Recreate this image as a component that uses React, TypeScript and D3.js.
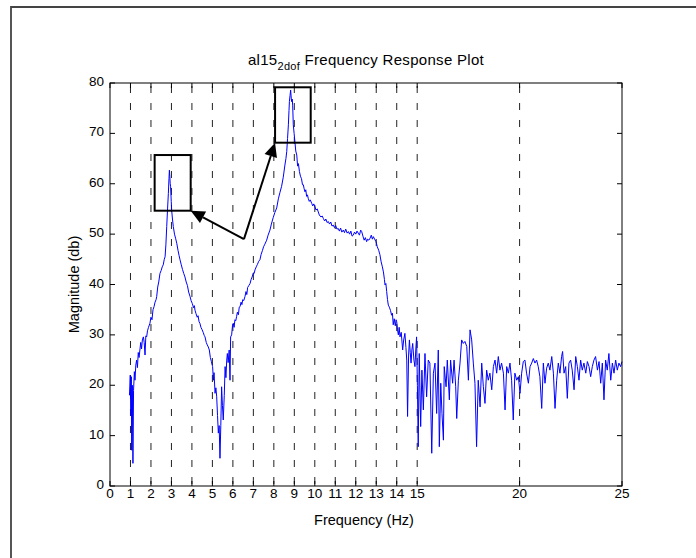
import React from 'react';
import * as d3 from 'd3';

const xTicks = [0, 1, 2, 3, 4, 5, 6, 7, 8, 9, 10, 11, 12, 13, 14, 15, 20, 25];
const yTicks = [0, 10, 20, 30, 40, 50, 60, 70, 80];
const gridFreqs = [1, 2, 3, 4, 5, 6, 7, 8, 9, 10, 11, 12, 13, 14, 15, 20];

const firstMode: [number, number][] = [
  [0.95, 18], [0.99, 22], [1.02, 14], [1.04, 21.7], [1.06, 7.1], [1.09, 20], [1.12, 4.5], [1.15, 19],
  [1.19, 22.7], [1.22, 21], [1.26, 24], [1.3, 25], [1.34, 23.5], [1.38, 26.5], [1.42, 25.5], [1.46, 27],
  [1.5, 28.5], [1.54, 27.2], [1.58, 29], [1.63, 29.6], [1.67, 28.5], [1.71, 26], [1.75, 29.8], [1.79, 29.6],
  [1.83, 30.8], [1.88, 31.5], [1.95, 32.3], [2.0, 33.5], [2.05, 33], [2.1, 35], [2.15, 35.6], [2.2, 36.5],
  [2.25, 37], [2.28, 37.6], [2.33, 39.5], [2.38, 40.5], [2.44, 42.2], [2.5, 42.8], [2.55, 43.5], [2.6, 43.9],
  [2.65, 45], [2.69, 45.5], [2.73, 48], [2.77, 51.5], [2.81, 55], [2.85, 58.1], [2.88, 61], [2.9, 62.7],
  [2.92, 61.5], [2.94, 60], [2.96, 59.4], [2.99, 56.5], [3.01, 54.8], [3.05, 53], [3.09, 51.5], [3.15, 50],
  [3.2, 49.2], [3.26, 48.2], [3.32, 46.8], [3.37, 45.8], [3.42, 44.9], [3.48, 43.9], [3.54, 43], [3.6, 42.2],
  [3.66, 41.5], [3.72, 40.5], [3.78, 39.8], [3.84, 38.5], [3.91, 37.6], [3.96, 36.8], [4.02, 36.2], [4.08, 35.4],
  [4.12, 35.8], [4.15, 34.9], [4.2, 34.2], [4.26, 33.5], [4.3, 33.8], [4.35, 32.6], [4.39, 32.3], [4.44, 31.5],
  [4.5, 31], [4.55, 30.5], [4.6, 29.9], [4.64, 29.6], [4.7, 28.5], [4.75, 28], [4.8, 27.6], [4.85, 27],
  [4.9, 25.5], [4.95, 24.7], [5.01, 23.7], [5.05, 21], [5.08, 22.5], [5.13, 18.4], [5.17, 19.5], [5.21, 17.7],
  [5.25, 14], [5.29, 10.5], [5.33, 12], [5.37, 5.5], [5.41, 12], [5.45, 19.7], [5.49, 16], [5.53, 13.1],
  [5.58, 18], [5.62, 23.7], [5.66, 21.5], [5.7, 25], [5.73, 26.3], [5.77, 24.5], [5.82, 27], [5.86, 21],
];

const secondMode: [number, number][] = [
  [5.89, 29.6], [5.94, 30], [5.98, 31.8], [6.02, 32.3], [6.06, 31.5], [6.1, 33], [6.14, 32.8], [6.18, 33.6],
  [6.22, 34.5], [6.27, 34], [6.31, 35.5], [6.35, 35.6], [6.4, 36.5], [6.44, 36], [6.48, 37], [6.53, 36.8],
  [6.59, 37.6], [6.64, 38.6], [6.68, 38], [6.72, 39.4], [6.78, 39.8], [6.84, 40.2], [6.89, 41], [6.94, 41.5],
  [7.0, 42.3], [7.04, 42.2], [7.08, 42.9], [7.14, 43.5], [7.2, 44], [7.26, 44.6], [7.32, 44.9], [7.38, 46],
  [7.44, 46.7], [7.5, 47.5], [7.56, 48], [7.65, 48.8], [7.72, 49.8], [7.81, 50.8], [7.88, 52], [7.97, 53.3],
  [8.05, 54.3], [8.14, 55.2], [8.22, 57], [8.3, 58.3], [8.38, 59.5], [8.46, 61.3], [8.54, 63.7], [8.59, 65],
  [8.63, 66.4], [8.67, 69], [8.71, 71.7], [8.74, 74.5], [8.76, 76.3], [8.79, 77.5], [8.82, 78.6], [8.85, 77],
  [8.87, 76.3], [8.9, 76.8], [8.92, 75.6], [8.95, 71.7], [8.99, 70], [9.03, 68.3], [9.07, 66.5], [9.12, 65.7],
  [9.16, 63.5], [9.2, 64], [9.25, 62.4], [9.3, 61.5], [9.35, 61], [9.4, 59.8], [9.44, 59.8], [9.48, 59],
  [9.52, 58.4], [9.56, 58.8], [9.6, 57.5], [9.64, 57.8], [9.68, 57.1], [9.73, 56.5], [9.78, 56.8], [9.85, 56.1],
  [9.9, 55.6], [9.95, 56], [10.01, 55.4], [10.06, 54.8], [10.12, 55], [10.17, 54.4], [10.22, 53.8], [10.3, 53.4],
  [10.36, 53.6], [10.42, 53.1], [10.48, 52.6], [10.54, 53], [10.6, 52.3], [10.66, 52.5], [10.72, 52], [10.78, 52.4],
  [10.84, 51.6], [10.9, 51.8], [10.96, 51.3], [11.02, 51.7], [11.08, 51], [11.15, 51.1], [11.2, 50.6], [11.26, 51.2],
  [11.32, 50.4], [11.39, 50.8], [11.45, 50.3], [11.51, 51], [11.58, 50.2], [11.64, 50.5], [11.7, 50], [11.76, 50.6],
  [11.82, 49.6], [11.88, 49.8], [11.94, 50.4], [12.0, 50], [12.06, 50.6], [12.12, 50.2], [12.18, 49.8], [12.24, 50.8],
  [12.29, 50.5], [12.35, 49.6], [12.41, 48.8], [12.47, 49.3], [12.53, 48.5], [12.58, 49], [12.64, 48.8], [12.7, 49.2],
  [12.76, 49.8], [12.81, 49], [12.86, 49.5], [12.92, 49], [12.99, 48.5], [13.05, 47.5], [13.12, 46.8], [13.18, 45.9],
  [13.24, 44.5], [13.3, 43.5], [13.35, 42.5], [13.4, 41], [13.43, 39.9], [13.47, 40.2], [13.51, 38.6], [13.55, 37],
  [13.59, 35.9], [13.64, 35.5], [13.7, 34.8], [13.75, 33.9], [13.79, 34.3], [13.83, 32], [13.88, 33.2], [13.93, 31.8],
  [13.97, 33], [14.0, 32.6], [14.04, 31], [14.08, 30], [14.12, 31.5], [14.16, 29.6],
];

const noiseFloor: [number, number][] = [
  [14.22, 30.5], [14.29, 27], [14.34, 29], [14.4, 30.3], [14.45, 27.5], [14.49, 25], [14.53, 13.8], [14.58, 26],
  [14.62, 29], [14.66, 26.5], [14.7, 24.4], [14.74, 27], [14.78, 28.3], [14.84, 25], [14.89, 23.7], [14.93, 27],
  [14.97, 29.6], [15.01, 20], [15.05, 7.8], [15.1, 26.3], [15.17, 11.8], [15.23, 23], [15.3, 15.1], [15.38, 26.3],
  [15.46, 17.7], [15.54, 25], [15.62, 24.4], [15.71, 6.5], [15.79, 22.4], [15.87, 24.4], [15.95, 14.4], [16.03, 27],
  [16.08, 7.8], [16.15, 20.4], [16.21, 14.4], [16.28, 9.1], [16.32, 23.7], [16.41, 19.7], [16.47, 25], [16.57, 17.1],
  [16.63, 25], [16.73, 20.4], [16.8, 25], [16.88, 19.7], [16.93, 13.4], [17.01, 21], [17.09, 24.4], [17.17, 29],
  [17.25, 28.3], [17.33, 28.7], [17.42, 27.7], [17.5, 21], [17.58, 31], [17.66, 29], [17.74, 24.4], [17.82, 20.4],
  [17.9, 7.8], [17.98, 21], [18.07, 15.7], [18.15, 24.4], [18.23, 19.7], [18.31, 16.4], [18.39, 23], [18.47, 21],
  [18.55, 22.4], [18.64, 19.1], [18.72, 23.7], [18.8, 25], [18.88, 22.4], [18.96, 25.7], [19.04, 23], [19.12, 24.4],
  [19.21, 22.4], [19.29, 15.1], [19.37, 23.7], [19.45, 22.4], [19.53, 24.4], [19.61, 21], [19.69, 13.1], [19.77, 22.4],
  [19.86, 21], [19.94, 21.7], [20.02, 18.4], [20.1, 22.4], [20.18, 24.7], [20.26, 25], [20.34, 22.4], [20.43, 20.4],
  [20.51, 23.7], [20.59, 24.4], [20.67, 25.3], [20.75, 24.4], [20.83, 25], [20.91, 23.7], [20.99, 21.7], [21.08, 15.4],
  [21.16, 24.4], [21.24, 20.4], [21.32, 23.4], [21.4, 24.4], [21.48, 23], [21.57, 25.7], [21.65, 22.4], [21.73, 15.4],
  [21.81, 21], [21.89, 24.4], [21.97, 22.4], [22.05, 25.7], [22.1, 26.7], [22.17, 22.4], [22.25, 23.7], [22.33, 17.4],
  [22.41, 24.4], [22.49, 25], [22.57, 23], [22.66, 19.1], [22.74, 25.7], [22.82, 23.7], [22.9, 21], [22.98, 25],
  [23.06, 23], [23.14, 24.4], [23.23, 22.4], [23.31, 24.7], [23.39, 23.7], [23.47, 21.7], [23.55, 23.7], [23.63, 25],
  [23.71, 25.7], [23.8, 23], [23.88, 24.7], [23.96, 20.4], [24.04, 24.4], [24.12, 17.1], [24.2, 25], [24.28, 23],
  [24.36, 26.3], [24.45, 21], [24.53, 24.4], [24.61, 22.4], [24.69, 25], [24.77, 23], [24.85, 24.4], [24.93, 23.7],
  [25.0, 24.7],
];

const highlightBoxes = [
  { f0: 2.18, f1: 3.94, m0: 54.65, m1: 65.7 },
  { f0: 8.06, f1: 9.8, m0: 68.15, m1: 79.15 },
];
const arrowOrigin: [number, number] = [6.54, 49.0];
const arrowTargets: [number, number][] = [[3.94, 54.65], [8.06, 68.15]];

const W = 696;
const H = 558;
const L = 110, R = 622, T = 83, B = 486;
const FONT = "'Liberation Sans', Arial, Helvetica, sans-serif";

export default function App() {
  const x = d3.scaleLinear().domain([0, 25]).range([L, R]);
  const y = d3.scaleLinear().domain([0, 80]).range([B, T]);
  const data = [...firstMode, ...secondMode, ...noiseFloor];
  const line = d3.line<[number, number]>().x(d => x(d[0])).y(d => y(d[1]));

  const arrows = arrowTargets.map((t, i) => {
    const ox = x(arrowOrigin[0]), oy = y(arrowOrigin[1]);
    const tx = x(t[0]), ty = y(t[1]);
    const dx = tx - ox, dy = ty - oy;
    const len = Math.hypot(dx, dy);
    const ux = dx / len, uy = dy / len;
    const hl = 14, hw = 6.5;
    const bx = tx - ux * hl, by = ty - uy * hl;
    const p1 = [bx - uy * hw, by + ux * hw];
    const p2 = [bx + uy * hw, by - ux * hw];
    return (
      <g key={i}>
        <line x1={ox} y1={oy} x2={bx} y2={by} stroke="#000" strokeWidth={2} />
        <polygon points={`${tx},${ty} ${p1[0]},${p1[1]} ${p2[0]},${p2[1]}`} fill="#000" />
      </g>
    );
  });

  return (
    <svg width={W} height={H} style={{ position: 'absolute', left: 0, top: 0, background: '#fff' }}
      fontFamily={FONT}>
      <rect x={0} y={0} width={W} height={H} fill="#fff" />
      <path d={`M11,${H} L11,7 L${W},7`} fill="none" stroke="#444" strokeWidth={1.8} />

      {gridFreqs.map(f => (
        <line key={f} x1={x(f)} x2={x(f)} y1={T + 3} y2={B} stroke="#222" strokeWidth={1}
          strokeDasharray="7 10" />
      ))}

      <path d={line(data) || ''} fill="none" stroke="#0000ff" strokeWidth={1} />

      {highlightBoxes.map((b, i) => (
        <rect key={i} x={x(b.f0)} y={y(b.m1)} width={x(b.f1) - x(b.f0)} height={y(b.m0) - y(b.m1)}
          fill="none" stroke="#000" strokeWidth={2} />
      ))}
      {arrows}

      <rect x={L} y={T} width={R - L} height={B - T} fill="none" stroke="#000" strokeWidth={1} />
      {xTicks.map(t => (
        <g key={t}>
          <line x1={x(t)} x2={x(t)} y1={B} y2={B - 5} stroke="#000" />
          <line x1={x(t)} x2={x(t)} y1={T} y2={T + 5} stroke="#000" />
          <text x={x(t)} y={498} fontSize={13.5} textAnchor="middle">{t}</text>
        </g>
      ))}
      {yTicks.map(t => (
        <g key={t}>
          <line x1={L} x2={L + 5} y1={y(t)} y2={y(t)} stroke="#000" />
          <line x1={R} x2={R - 5} y1={y(t)} y2={y(t)} stroke="#000" />
          <text x={104} y={y(t) + 3} fontSize={13.5} textAnchor="end">{t}</text>
        </g>
      ))}

      <text x={(L + R) / 2 - 2} y={525} fontSize={14.5} textAnchor="middle">Frequency (Hz)</text>
      <text transform={`translate(79,${(T + B) / 2}) rotate(-90)`} fontSize={14.5} textAnchor="middle">
        Magnitude (db)
      </text>
      <text x={(L + R) / 2} y={65} fontSize={15} letterSpacing={0.3} textAnchor="middle">
        al15<tspan fontSize={11} dy={5}>2dof</tspan><tspan dy={-5}> Frequency Response Plot</tspan>
      </text>
    </svg>
  );
}
